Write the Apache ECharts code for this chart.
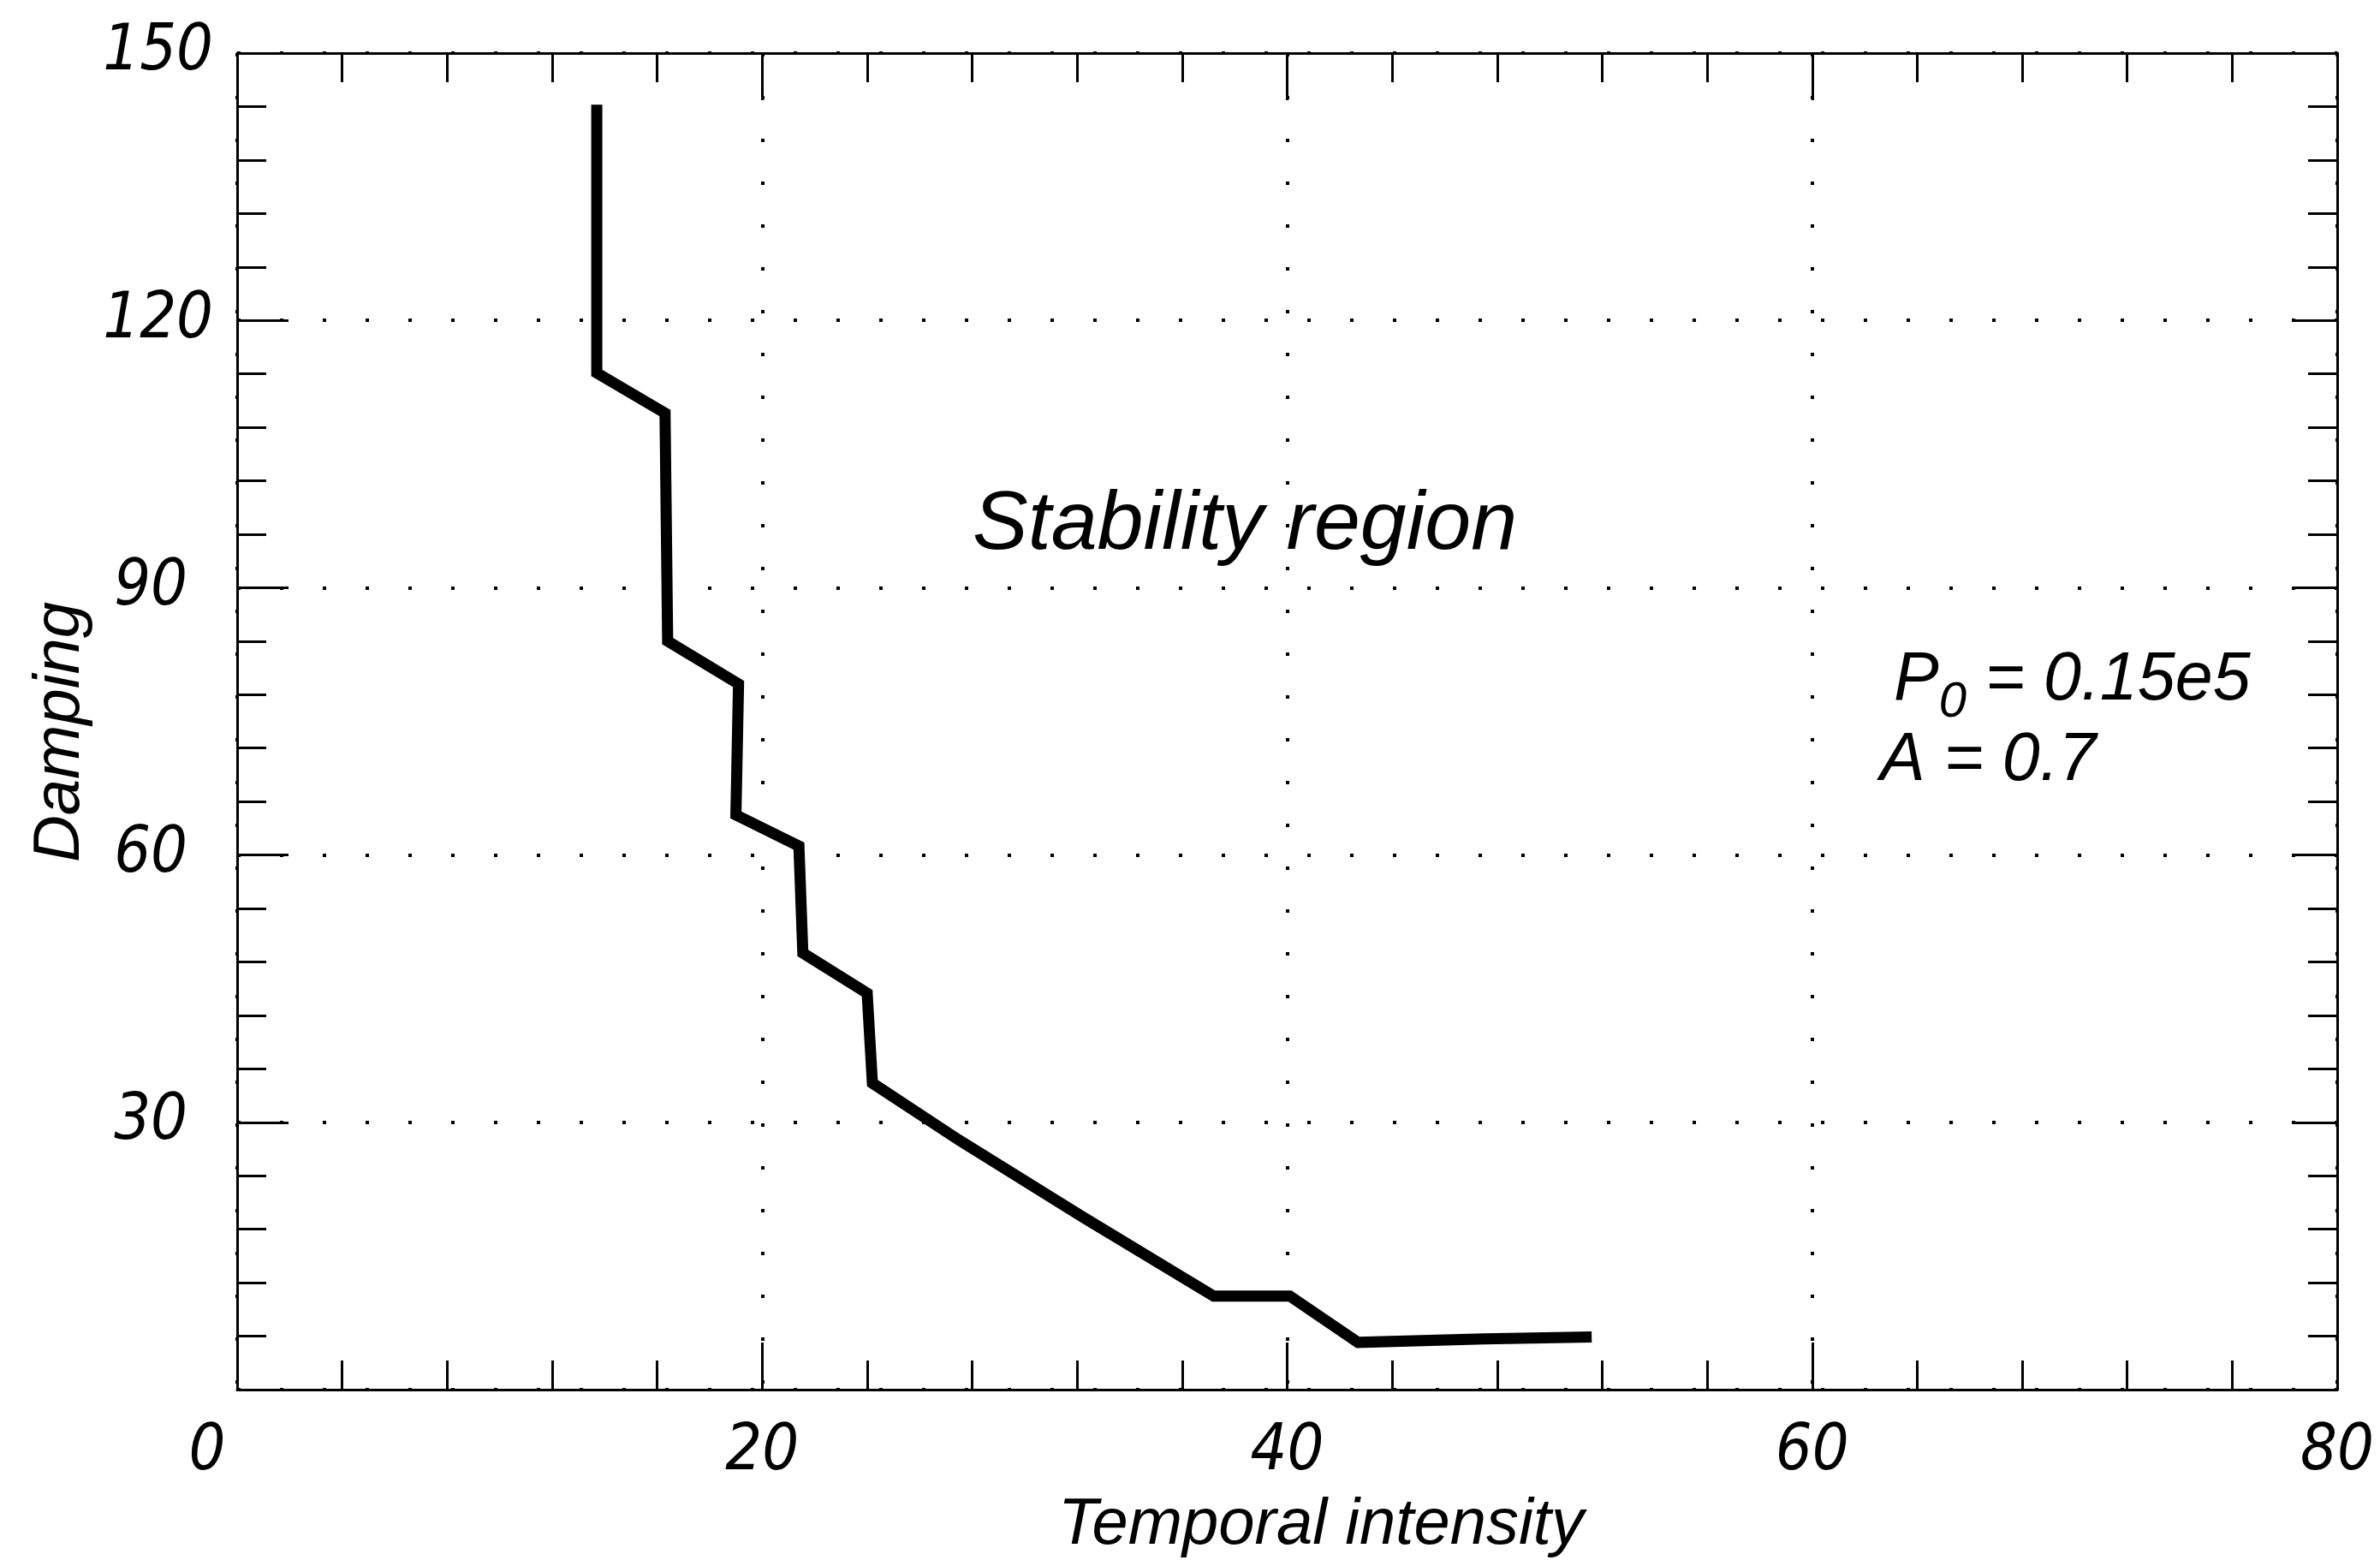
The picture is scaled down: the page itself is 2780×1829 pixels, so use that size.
<!DOCTYPE html>
<html><head><meta charset="utf-8">
<script src="https://cdn.jsdelivr.net/npm/echarts@6/dist/echarts.min.js"></script>
<style>html,body{margin:0;padding:0;background:#fff}#c{width:2780px;height:1829px}</style>
</head><body><div id="c"></div>
<script>
// ---- data ----
const intensity = [13.7, 13.7, 16.3, 16.4, 19.1, 19.0, 21.4, 21.55, 24.0, 24.2, 27.5, 32.2, 37.2, 40.1, 42.7, 47.5, 51.6];
const damping   = [144.2, 114.1, 109.6, 84.0, 79.2, 64.5, 61.0, 49.0, 44.5, 34.4, 28.0, 19.4, 10.5, 10.5, 5.3, 5.7, 5.9];
const xTickLabels = [0, 20, 40, 60, 80];
const yTickLabels = [30, 60, 90, 120, 150];
const xTitle = 'Temporal intensity';
const yTitle = 'Damping';
const regionLabel = 'Stability region';
const paramP = '0.15e5';
const paramA = '0.7';

const FONT = "'Liberation Sans', 'DejaVu Sans', sans-serif";
const NARROW = "'Liberation Sans Narrow', 'DejaVu Sans Condensed', 'Liberation Sans', sans-serif";
const lineData = intensity.map((x, i) => [x, damping[i]]);

const chart = echarts.init(document.getElementById('c'), null, {renderer: 'canvas'});

const lab = (size) => ({fontSize: size, fontStyle: 'italic', fontFamily: NARROW, color: '#000'});

const tickStyle = {show: true, inside: true, length: 55, lineStyle: {color: '#000', width: 3}};
const minorStyle = {show: true, splitNumber: 5, length: 34, lineStyle: {color: '#000', width: 3}};
const axisLine = {show: true, onZero: false, lineStyle: {color: '#000', width: 3}};
const dotted = {show: true, lineStyle: {color: '#000', width: 4, type: [4, 46]}};

chart.setOption({
  backgroundColor: '#fff',
  animation: false,
  grid: {left: 277, right: 50, top: 62, bottom: 206, containLabel: false},
  xAxis: [
    {
      type: 'value', position: 'bottom', min: 0, max: 80, interval: 20,
      axisLine, axisTick: tickStyle, minorTick: minorStyle,
      splitLine: dotted,
      axisLabel: Object.assign(lab(75), {
        margin: 36,
        formatter: v => xTickLabels.includes(v) ? (v === 0 ? '{z|0}' : String(v)) : '',
        rich: {z: Object.assign(lab(75), {padding: [0, 70, 0, 0]})}
      })
    },
    {
      type: 'value', position: 'top', min: 0, max: 80, interval: 20,
      axisLine, axisTick: tickStyle, minorTick: minorStyle,
      splitLine: {show: false}, axisLabel: {show: false}
    }
  ],
  yAxis: [
    {
      type: 'value', position: 'left', min: 0, max: 150, interval: 30,
      axisLine, axisTick: Object.assign({}, tickStyle, {length: 60}), minorTick: minorStyle,
      splitLine: dotted,
      axisLabel: Object.assign(lab(75), {
        margin: 28, showMinLabel: false,
        formatter: v => yTickLabels.includes(v) ? (v >= 100 ? '{c|' + v + '}' : '{d|' + v + '}') : '',
        rich: {
          c: lab(75),
          d: Object.assign(lab(75), {padding: [0, 30, 0, 0]})
        }
      })
    },
    {
      type: 'value', position: 'right', min: 0, max: 150, interval: 30,
      axisLine, axisTick: Object.assign({}, tickStyle, {length: 50}), minorTick: minorStyle,
      splitLine: {show: false}, axisLabel: {show: false}
    }
  ],
  series: [{
    type: 'line',
    data: lineData,
    showSymbol: false,
    symbol: 'none',
    lineStyle: {color: '#000', width: 13, join: 'miter', cap: 'butt'},
    z: 5
  }],
  graphic: [
    {type: 'text', left: 1136, top: 566, style: {text: regionLabel, font: 'italic 97px ' + FONT, fill: '#000'}},
    {type: 'text', left: 2212, top: 756, style: {
      text: '{a|P}{s|0}{a| = ' + paramP + '}',
      rich: {
        a: {font: 'italic 79px ' + FONT, fill: '#000', verticalAlign: 'top'},
        s: {font: 'italic 58px ' + FONT, fill: '#000', padding: [36, 0, 0, 0], verticalAlign: 'top'}
      }
    }},
    {type: 'text', left: 2196, top: 850, style: {text: 'A = ' + paramA, font: 'italic 79px ' + FONT, fill: '#000'}},
    {type: 'text', x: 1543, y: 1782, style: {text: xTitle, font: 'italic 76px ' + FONT, fill: '#000', textAlign: 'center', textVerticalAlign: 'middle'}},
    {type: 'text', x: 71, y: 855, rotation: Math.PI / 2, style: {text: yTitle, font: 'italic 76px ' + FONT, fill: '#000', textAlign: 'center', textVerticalAlign: 'middle'}}
  ]
});
</script></body></html>
